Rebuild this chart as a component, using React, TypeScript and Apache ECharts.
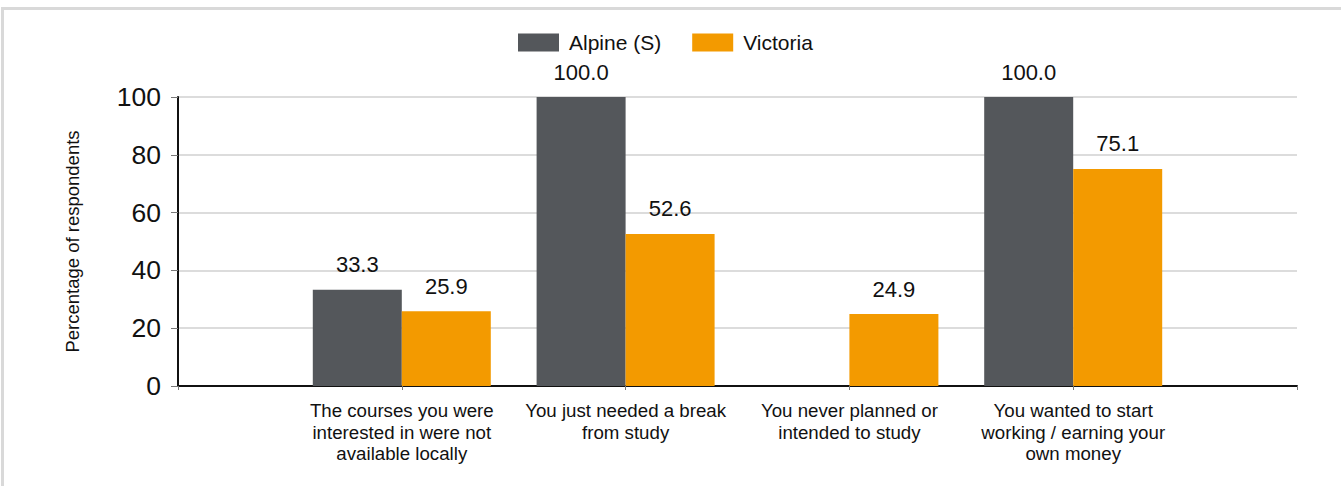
import React, { useEffect, useRef } from "react";
import * as echarts from "echarts";

const categories = [
  "The courses you were\ninterested in were not\navailable locally",
  "You just needed a break\nfrom study",
  "You never planned or\nintended to study",
  "You wanted to start\nworking / earning your\nown money",
];
const alpineValues: (number | null)[] = [33.3, 100.0, null, 100.0];
const victoriaValues: (number | null)[] = [25.9, 52.6, 24.9, 75.1];
const seriesNames = ["Alpine (S)", "Victoria"];
const yTicks = [0, 20, 40, 60, 80, 100];

export default function App() {
  const ref = useRef<HTMLDivElement>(null);
  useEffect(() => {
    if (!ref.current) return;
    const chart = echarts.init(ref.current, undefined, { renderer: "svg" });
    const axisCats = ["", ...categories, ""];
    const pad = (arr: (number | null)[]) => [null, ...arr, null].map((v) => (v === null ? "-" : v));
    const font = "Liberation Sans, Arial, sans-serif";
    const label = {
      show: true,
      position: "top" as const,
      distance: 14,
      color: "#111",
      fontSize: 22,
      fontFamily: font,
      formatter: (p: any) => (typeof p.value === "number" ? p.value.toFixed(1) : ""),
    };
    chart.setOption({
      animation: false,
      textStyle: { fontFamily: font },
      legend: {
        top: 32,
        left: 518,
        padding: 0,
        icon: "rect",
        itemWidth: 41,
        itemHeight: 18,
        itemGap: 31,
        textStyle: { fontSize: 21, color: "#111", fontFamily: font, padding: [0, 0, 0, 5] },
        data: seriesNames,
      },
      grid: { left: 178, right: 44, top: 97, bottom: 100 },
      xAxis: {
        type: "category",
        data: axisCats,
        boundaryGap: false,
        axisLine: { lineStyle: { color: "#111", width: 2 } },
        axisTick: { show: true, length: 4, lineStyle: { color: "#777" } },
        axisLabel: {
          interval: 0,
          color: "#111",
          fontSize: 18.7,
          lineHeight: 21.5,
          margin: 14,
          fontFamily: font,
        },
        splitLine: { show: false },
      },
      yAxis: {
        type: "value",
        min: 0,
        max: 100,
        interval: 20,
        name: "Percentage of respondents",
        nameLocation: "middle",
        nameGap: 96,
        nameTextStyle: { fontSize: 18.5, color: "#111", fontFamily: font },
        axisLine: { show: true, lineStyle: { color: "#111", width: 2 } },
        axisTick: { show: true, length: 7, lineStyle: { color: "#777" } },
        axisLabel: {
          color: "#111",
          fontSize: 26.5,
          margin: 17,
          fontFamily: font,
          formatter: (v: number) => (yTicks.includes(v) ? String(v) : ""),
        },
        splitLine: { show: true, lineStyle: { color: "#dcdcdc", width: 2 } },
      },
      series: [
        {
          name: seriesNames[0],
          type: "bar",
          data: pad(alpineValues),
          barWidth: 89,
          barGap: "0%",
          itemStyle: { color: "#54575b" },
          label,
        },
        {
          name: seriesNames[1],
          type: "bar",
          data: pad(victoriaValues),
          barWidth: 89,
          barGap: "0%",
          itemStyle: { color: "#f39a00" },
          label,
        },
      ],
    });
    return () => chart.dispose();
  }, []);
  return (
    <div style={{ position: "fixed", left: 0, top: 0, width: 1341, height: 486, background: "#fff", overflow: "hidden" }}>
      <div
        style={{
          position: "absolute",
          left: 1,
          top: 7,
          width: 1400,
          height: 520,
          border: "3px solid #d9d9d9",
          boxSizing: "border-box",
        }}
      />
      <div ref={ref} style={{ position: "absolute", left: 0, top: 0, width: 1341, height: 486 }} />
    </div>
  );
}
